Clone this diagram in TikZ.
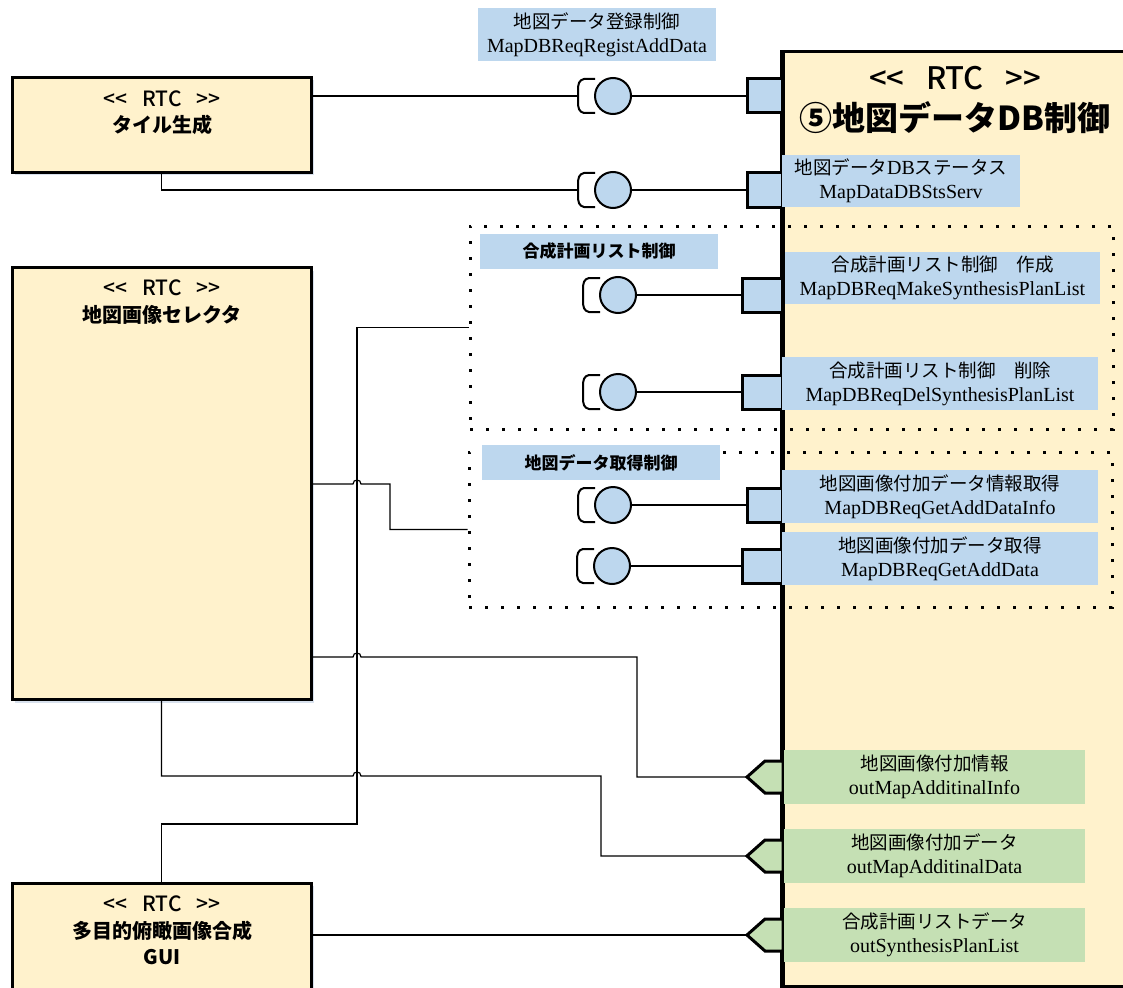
\documentclass[tikz,border=0pt]{standalone}
\usepackage{fontspec}
\setmainfont{Liberation Serif}
\newfontfamily\jp{Noto Sans CJK JP}
\newfontfamily\jpm{Noto Sans CJK JP Medium}
\usetikzlibrary{shadows}
\definecolor{rtcfill}{HTML}{FFF2CC}
\definecolor{svcblue}{HTML}{BDD7EE}
\definecolor{outgreen}{HTML}{C5E0B4}
\definecolor{shadowc}{HTML}{C8D4E6}
\newcommand\jl[1]{{\jp\fontsize{18.5}{24}\selectfont #1}}
\newcommand\rtctext{<<\hspace{0.7em}RTC\hspace{0.7em}>>}
% socket: ball + cup
\newcommand\socketat[3]{%
  \node[ball] (#1) at (#2,#3) {};
  \begin{scope}[shift={(#2,#3)}]
    \draw[cupline] (-18,-17) -- (-29,-17) .. controls (-34,-16) and (-35,-12) .. (-35,-6)
      -- (-35,6) .. controls (-35,12) and (-34,16) .. (-29,17) -- (-18,17);
    \coordinate (#1-cup) at (-35,0);
  \end{scope}}
% output data port
\newcommand\outportat[2]{%
  \draw[outport] (783,{#2-16}) -- (765,{#2-16}) -- (747,#2) -- (765,{#2+16}) -- (783,{#2+16}) -- cycle;
  \coordinate (#1) at (747,#2);}
\begin{document}
\begin{tikzpicture}[x=1pt,y=-1pt,
  rtcbox/.style={draw, line width=3pt, fill=rtcfill, inner sep=0pt},
  shadowed/.style={drop shadow={shadow xshift=3pt, shadow yshift=-3pt, fill=shadowc, opacity=0.7}},
  rtctag/.style={font=\jpm\fontsize{21}{24}\selectfont, inner sep=0pt},
  rtcname/.style={font=\jp\bfseries\fontsize{20}{24}\selectfont, inner sep=0pt},
  svcport/.style={draw, line width=3pt, fill=svcblue, inner sep=0pt, minimum height=34},
  ball/.style={circle, draw, line width=2pt, fill=svcblue, minimum size=36, inner sep=0pt},
  cupline/.style={line width=2pt},
  outport/.style={draw, line width=3pt, fill=outgreen, line join=miter},
  conn/.style={line width=1.2pt, black},
  lblblue/.style={fill=svcblue, inner sep=0pt, align=center, font=\fontsize{20}{24}\selectfont},
  lblgreen/.style={fill=outgreen, inner sep=0pt, align=center, font=\fontsize{20}{24}\selectfont},
  grouplbl/.style={fill=svcblue, inner sep=0pt, font=\jp\bfseries\fontsize{17}{20}\selectfont},
  group/.style={draw, line width=3pt, dash pattern=on 3pt off 13pt, inner sep=0pt}
]
\useasboundingbox (0,0) rectangle (1123,987);

% ---------- main component ----------
\node[rtcbox, minimum width=360, minimum height=934] (db) at (963,519) {};
\node[font=\jpm\fontsize{31}{34}\selectfont, inner sep=0pt] (dbtag) at (955,78) {\rtctext};
\node[font=\jp\bfseries\fontsize{33}{38}\selectfont, inner sep=0pt] (dbname) at (955,118) {⑤地図データDB制御};

% ---------- groups ----------
\node[group, minimum width=643, minimum height=203] (grp1) at (791.5,327.5) {};
\node[group, minimum width=643, minimum height=155] (grp2) at (790.5,529.5) {};
\draw[line width=3pt] (db.north west) -- (db.south west);

% ---------- left components ----------
\node[rtcbox, shadowed, minimum width=299, minimum height=95] (tile) at (161.5,125) {};
\node[rtctag] (tiletag) at (162,99) {\rtctext};
\node[rtcname] (tilename) at (162,125) {タイル生成};

\node[rtcbox, shadowed, minimum width=299, minimum height=432] (sel) at (161.5,483.5) {};
\node[rtctag] (seltag) at (162,288) {\rtctext};
\node[rtcname] (selname) at (162,315) {地図画像セレクタ};

\node[rtcbox, shadowed, minimum width=299, minimum height=120] (gui) at (161.5,943) {};
\node[rtctag] (guitag) at (162,904) {\rtctext};
\node[rtcname] (guiname) at (162,931) {多目的俯瞰画像合成};
\node[rtcname] (guiname2) at (162,957) {GUI};

% ---------- service ports ----------
\node[svcport, minimum width=35] (sp1) at (765,96) {};
\node[svcport, minimum width=35] (sp2) at (765,190) {};
\node[svcport, minimum width=40] (sp3) at (762,295) {};
\node[svcport, minimum width=40] (sp4) at (762,392) {};
\node[svcport, minimum width=35] (sp5) at (765,505) {};
\node[svcport, minimum width=40] (sp6) at (762,566) {};

% ---------- sockets ----------
\socketat{s1}{613}{96}
\socketat{s2}{613}{190}
\socketat{s3}{618}{295}
\socketat{s4}{618}{392}
\socketat{s5}{613}{505}
\socketat{s6}{612}{566}
\foreach \i in {1,...,6} { \draw[conn] (s\i) -- (sp\i); }

% ---------- output ports ----------
\outportat{op1}{777}
\outportat{op2}{856}
\outportat{op3}{935}

% ---------- labels ----------
\node[lblblue, minimum width=238, minimum height=53] (lb1) at (597,34.5) {\jl{地図データ登録制御}\\MapDBReqRegistAddData};
\node[lblblue, minimum width=238, minimum height=52] (lb2) at (901,181) {\jl{地図データ}DB\jl{ステータス}\\MapDataDBStsServ};
\node[grouplbl, minimum width=238, minimum height=35] (gl1) at (599,251.5) {合成計画リスト制御};
\node[lblblue, minimum width=315, minimum height=52] (lb3) at (942.5,278) {\jl{合成計画リスト制御　作成}\\MapDBReqMakeSynthesisPlanList};
\node[lblblue, minimum width=316, minimum height=53] (lb4) at (940,383.5) {\jl{合成計画リスト制御　削除}\\MapDBReqDelSynthesisPlanList};
\node[grouplbl, minimum width=238, minimum height=35] (gl2) at (601,462.5) {地図データ取得制御};
\node[lblblue, minimum width=316, minimum height=53] (lb5) at (940,496.5) {\jl{地図画像付加データ情報取得}\\MapDBReqGetAddDataInfo};
\node[lblblue, minimum width=316, minimum height=53] (lb6) at (940,558.5) {\jl{地図画像付加データ取得}\\MapDBReqGetAddData};
\node[lblgreen, minimum width=301, minimum height=54] (lg1) at (934.5,777) {\jl{地図画像付加情報}\\outMapAdditinalInfo};
\node[lblgreen, minimum width=301, minimum height=54] (lg2) at (934.5,856) {\jl{地図画像付加データ}\\outMapAdditinalData};
\node[lblgreen, minimum width=301, minimum height=54] (lg3) at (934.5,935) {\jl{合成計画リストデータ}\\outSynthesisPlanList};

% ---------- connectors ----------
\coordinate (bus) at (357,824);
\coordinate (k1) at (390,484);
\coordinate (k2) at (637,657);
\coordinate (k3) at (601,776);

\draw[conn] (tile.east |- s1-cup) -- (s1-cup);
\draw[conn] (tile.south) |- (s2-cup);
\draw[conn] (gui.north) |- (bus) |- (grp1.west);
\draw[conn] (sel.east |- k1) -- (353,484) .. controls (353,478.7) and (361,478.7) .. (361,484) -- (k1) |- (grp2.west);
\draw[conn] (sel.east |- k2) -- (353,657) .. controls (353,651.7) and (361,651.7) .. (361,657) -- (k2) |- (op1);
\draw[conn] (sel.south) |- (353,776) .. controls (353,770.7) and (361,770.7) .. (361,776) -- (k3) |- (op2);
\draw[conn] (gui.east |- op3) -- (op3);
\end{tikzpicture}
\end{document}
